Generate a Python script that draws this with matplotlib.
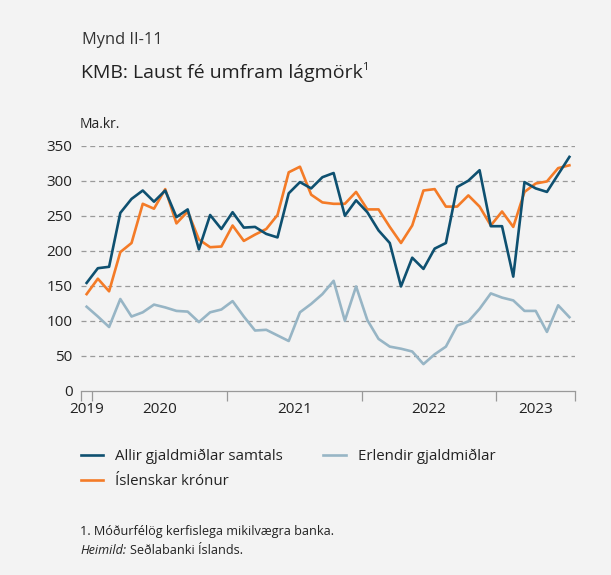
import matplotlib
matplotlib.use("Agg")
import matplotlib.pyplot as plt
import matplotlib.ticker as ticker

plt.rcParams["font.family"] = ["Open Sans", "DejaVu Sans"]

# monthly values, Dec 2019 - Jul 2023 (ma.kr.)
months = list(range(44))
allir = [154, 175, 177, 254, 274, 286, 270, 286, 248, 259, 202, 251,
         231, 255, 233, 234, 224, 219, 282, 298, 289, 305, 311, 250,
         272, 255, 229, 211, 149, 190, 174, 203, 211, 291, 300, 315,
         235, 235, 163, 298, 289, 284, 309, 334]
kronur = [138, 160, 142, 198, 211, 267, 260, 288, 239, 256, 216, 205,
          206, 236, 214, 223, 231, 251, 312, 320, 280, 269, 267, 267,
          284, 259, 259, 234, 211, 236, 286, 288, 263, 263, 279, 263,
          236, 256, 234, 284, 296, 299, 318, 322]
erlendir = [120, 106, 91, 131, 106, 112, 123, 119, 114, 113, 98, 112,
            116, 128, 106, 86, 87, 79, 71, 112, 124, 138, 157, 100,
            149, 101, 74, 63, 60, 56, 38, 52, 63, 93, 99, 117,
            139, 133, 129, 114, 114, 84, 122, 105]

year_labels = ["2019", "2020", "2021", "2022", "2023"]
year_label_pos = [0.5, 7, 19, 31, 40.5]
year_ticks = [0, 1, 13, 25, 37, 44]

BG = "#F3F3F3"
DARK = "#0E5070"
ORANGE = "#F47B27"
LIGHT = "#97B5C5"
TEXT = "#222222"
W, H = 611, 575

fig = plt.figure(figsize=(6.11, 5.75), dpi=100)
fig.patch.set_facecolor(BG)
ax = fig.add_axes([0.1326, 0.3205, 0.8085, 0.4261])
ax.set_facecolor(BG)

x = [m + 0.5 for m in months]
ax.plot(x, erlendir, color=LIGHT, linewidth=1.9, label="Erlendir gjaldmiðlar", zorder=3)
ax.plot(x, kronur, color=ORANGE, linewidth=1.9, label="Íslenskar krónur", zorder=4)
ax.plot(x, allir, color=DARK, linewidth=1.9, label="Allir gjaldmiðlar samtals", zorder=5)

ax.set_xlim(0, 44)
ax.set_ylim(0, 350)

# y axis: labels only, dashed grid
ax.yaxis.set_major_locator(ticker.MultipleLocator(50))
ax.tick_params(axis="y", length=0, pad=6, labelsize=11, colors=TEXT)
for v in range(50, 351, 50):
    ax.axhline(v, color="#9A9A9A", linewidth=0.9, linestyle=(0, (4, 3)), zorder=1)

# x axis: ticks on year boundaries, labels centred in each year
ax.set_xticks(year_ticks)
ax.set_xticklabels([])
ax.tick_params(axis="x", which="major", length=7, width=0.9, color="#999999", direction="out")
ax.set_xticks(year_label_pos, minor=True)
ax.set_xticklabels(year_labels, minor=True)
ax.tick_params(axis="x", which="minor", length=0, pad=8, labelsize=11, labelcolor=TEXT)

for side in ["top", "right", "left"]:
    ax.spines[side].set_visible(False)
ax.spines["bottom"].set_color("#999999")
ax.spines["bottom"].set_linewidth(0.9)

# headings
fig.text(82 / W, 1 - 40 / H, "Mynd II-11", fontsize=11.8, color="#333333", va="center")
title = fig.text(81 / W, 1 - 73 / H, "KMB: Laust fé umfram lágmörk", fontsize=14,
                 color=TEXT, va="center")
fig.text(80 / W, 1 - 124 / H, "Ma.kr.", fontsize=10, color=TEXT, va="center")

renderer = fig.canvas.get_renderer()
tb = title.get_window_extent(renderer)
fig.text((tb.x1 - 1) / W, 1 - 68 / H, "1", fontsize=8, color=TEXT, va="center")

# legend
handles, labels = ax.get_legend_handles_labels()
order = [2, 1, 0]
fig.legend([handles[i] for i in order], [labels[i] for i in order],
           loc="upper left", bbox_to_anchor=(67 / W, 1 - 435 / H), ncol=2,
           frameon=False, fontsize=10.8, handlelength=1.5, columnspacing=2.7,
           handletextpad=0.8, labelspacing=0.7, labelcolor=TEXT)

# footnotes
fig.text(80 / W, 1 - 531 / H, "1. Móðurfélög kerfislega mikilvægra banka.",
         fontsize=9.1, color=TEXT, va="center")
src = fig.text(80 / W, 1 - 551 / H, "Heimild:", fontsize=9.1, color=TEXT, va="center",
               style="italic")
sb = src.get_window_extent(renderer)
fig.text(sb.x1 / W + 4 / W, 1 - 551 / H, "Seðlabanki Íslands.", fontsize=9.1,
         color=TEXT, va="center")

fig.savefig("out.png", dpi=100, facecolor=BG)
plt.close(fig)
